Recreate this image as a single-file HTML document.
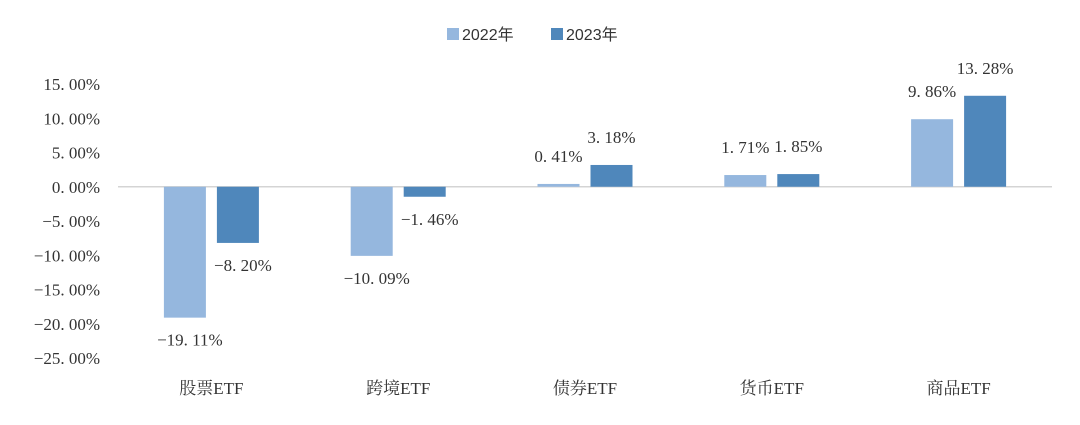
<!DOCTYPE html>
<html><head><meta charset="utf-8"><style>
html,body{margin:0;padding:0;background:#fff;}
svg text{font-family:"Liberation Serif","Noto Serif CJK SC",serif;fill:#333;}
</style></head><body>
<svg id="chart" width="1080" height="420" viewBox="0 0 1080 420" xmlns="http://www.w3.org/2000/svg">
<g id="legend">
  <rect x="447" y="28" width="12" height="12" fill="#95b7de"/>
  <text x="462" y="40" font-size="16" style="font-family:'Liberation Sans','Noto Sans CJK SC',sans-serif">2022年</text>
  <rect x="551" y="28" width="12" height="12" fill="#4f87bb"/>
  <text x="566" y="40" font-size="16" style="font-family:'Liberation Sans','Noto Sans CJK SC',sans-serif">2023年</text>
</g>
<g id="axis"></g>
<g id="bars"></g>
</svg>
<script>
const categories = ["股票ETF","跨境ETF","债券ETF","货币ETF","商品ETF"];
const values2022 = [-19.11, -10.09, 0.41, 1.71, 9.86];
const values2023 = [-8.20, -1.46, 3.18, 1.85, 13.28];
const yTicks = [15, 10, 5, 0, -5, -10, -15, -20, -25];

const svg = document.getElementById('chart');
const NS = 'http://www.w3.org/2000/svg';
const plotL = 118, plotR = 1052;
const yMax = 15, yMin = -25, yTop = 84, yBot = 358;
function y(v){ return yTop + (yMax - v) / (yMax - yMin) * (yBot - yTop); }
const band = (plotR - plotL) / categories.length;
function xc(i){ return plotL + band * (i + 0.5); }
function fmt(v){ return (v < 0 ? '\u2212' : '') + Math.abs(v).toFixed(2).replace('.', '. ') + '%'; }
function mk(tag, attrs){ const e = document.createElementNS(NS, tag); for (const k in attrs) e.setAttribute(k, attrs[k]); return e; }

const axis = document.getElementById('axis');
yTicks.forEach(t => {
  const tx = mk('text', {x: 100, y: y(t) + 6, 'font-size': 17, 'text-anchor': 'end'});
  
  
  tx.textContent = (t < 0 ? '\u2212' : '') + Math.abs(t).toFixed(2).replace('.', '. ') + '%';
  axis.appendChild(tx);
});
const zl = mk('line', {x1: plotL, x2: plotR, y1: y(0), y2: y(0), stroke: '#d4d4d4', 'stroke-width': 1.5});


axis.appendChild(zl);
categories.forEach((c, i) => {
  const tx = mk('text', {x: xc(i), y: 394, 'font-size': 17, 'text-anchor': 'middle'});
  
  
  tx.textContent = c;
  axis.appendChild(tx);
});

const bars = document.getElementById('bars');
const bw = 42, gap = 11;
[[values2022, '#95b7de', -1, '2022'], [values2023, '#4f87bb', 1, '2023']].forEach(([vals, col, side, yr]) => {
  vals.forEach((v, i) => {
    const cx = xc(i) + side * (bw + gap) / 2;
    const y0 = y(0), y1 = y(v);
    const r = mk('rect', {x: cx - bw / 2, y: Math.min(y0, y1), width: bw, height: Math.max(1, Math.abs(y1 - y0)), fill: col});
    
    
    bars.appendChild(r);
    const ly = v < 0 ? y1 + 28 : y1 - 22;
    const t = mk('text', {x: cx + (v < 0 ? 5 : 0), y: ly, 'font-size': 17, 'text-anchor': 'middle'});
    
    
    t.textContent = fmt(v);
    bars.appendChild(t);
  });
});
</script>
</body></html>
